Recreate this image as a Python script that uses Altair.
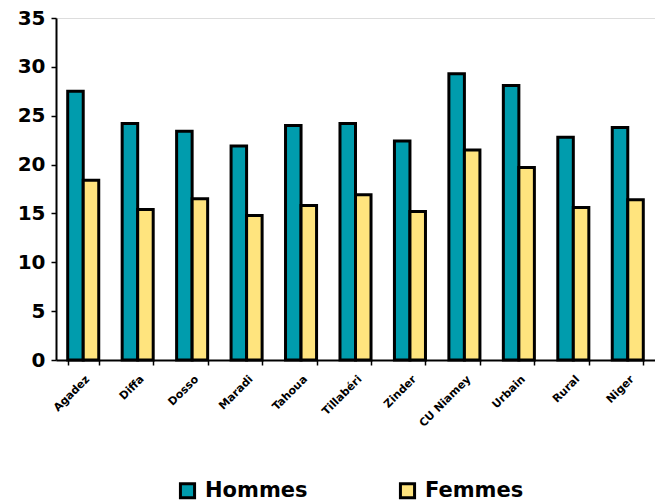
import altair as alt
import pandas as pd

regions = ["Agadez", "Diffa", "Dosso", "Maradi", "Tahoua", "Tillabéri", "Zinder",
           "CU Niamey", "Urbain", "Rural", "Niger"]
hommes = [27.5, 24.2, 23.4, 21.9, 24.0, 24.2, 22.4, 29.3, 28.1, 22.8, 23.8]
femmes = [18.4, 15.4, 16.5, 14.8, 15.8, 16.9, 15.2, 21.5, 19.7, 15.6, 16.4]
series = ["Hommes", "Femmes"]
colors = ["#009CAD", "#FFE47E"]

rows = []
for r, h, f in zip(regions, hommes, femmes):
    rows.append({"region": r, "sexe": "Hommes", "val": h})
    rows.append({"region": r, "sexe": "Femmes", "val": f})
df = pd.DataFrame(rows)

font = "DejaVu Sans"

chart = alt.Chart(df).mark_bar(stroke="black", strokeWidth=3, strokeJoin="miter").encode(
    x=alt.X("region:N", sort=regions, title=None,
            scale=alt.Scale(paddingInner=0.43, paddingOuter=0.215),
            axis=alt.Axis(labelAngle=-45, labelFont=font, labelFontWeight="bold",
                          labelFontSize=11, labelColor="black", labelPadding=8,
                          domainColor="black", domainWidth=2, tickColor="black",
                          tickWidth=1.5, tickSize=5, tickBand="extent", labelLimit=200)),
    xOffset=alt.XOffset("sexe:N", sort=series),
    y=alt.Y("val:Q", title=None,
            scale=alt.Scale(domain=[0, 35], nice=False),
            axis=alt.Axis(values=[0, 5, 10, 15, 20, 25, 30, 35], grid=False,
                          labelFont=font, labelFontWeight="bold", labelFontSize=20,
                          labelColor="black", labelPadding=6,
                          domainColor="black", domainWidth=2, tickColor="black",
                          tickWidth=1.5, tickSize=5)),
    color=alt.Color("sexe:N", sort=series,
                    scale=alt.Scale(domain=series, range=colors),
                    legend=alt.Legend(title=None, orient="none", direction="horizontal",
                                      legendX=121, legendY=462,
                                      symbolType="square", symbolSize=200,
                                      symbolStrokeColor="black", symbolStrokeWidth=3,
                                      labelFont=font, labelFontWeight="bold",
                                      labelFontSize=21, labelColor="black",
                                      columnPadding=86, labelOffset=7, labelLimit=300)),
).properties(
    width=599, height=342,
    autosize=alt.AutoSizeParams(type="none"),
    padding={"left": 56, "top": 18, "right": 0, "bottom": 144},
).configure_view(stroke=None).configure(background="white")

chart.save("out.html", embed_options={"renderer": "svg", "actions": False})
